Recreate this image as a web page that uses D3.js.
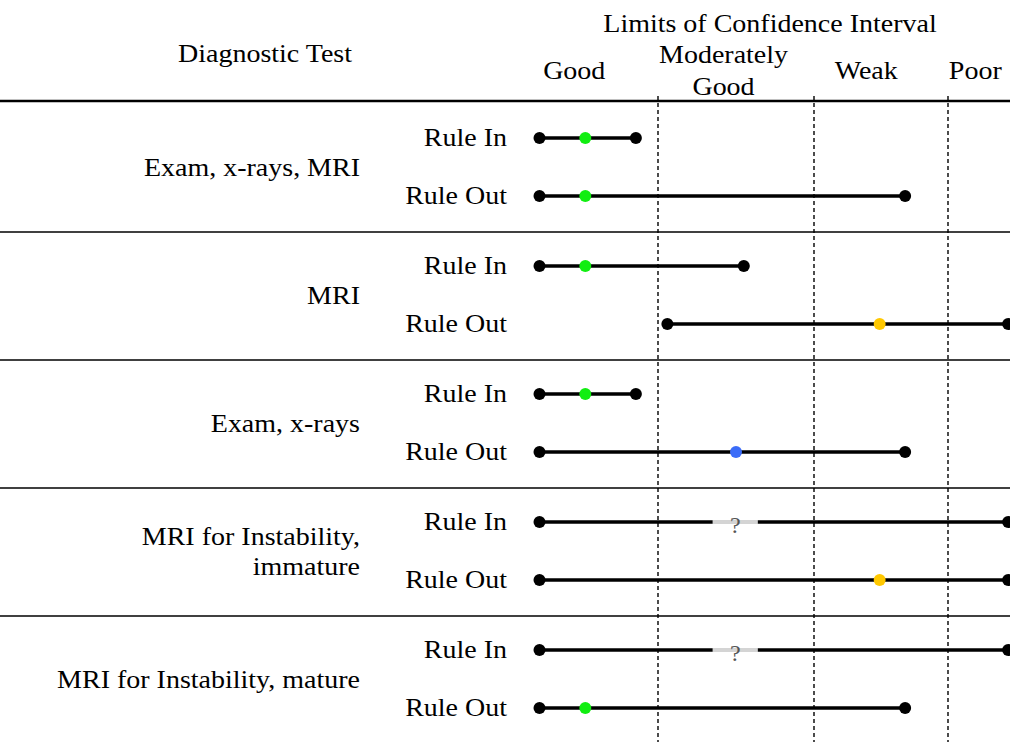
<!DOCTYPE html>
<html>
<head>
<meta charset="utf-8">
<script src="https://cdn.jsdelivr.net/npm/d3@7"></script>
<style>
  body { margin: 0; background: #fff; }
</style>
</head>
<body>
<div id="chart"></div>
<script>
var w = 1010;
var h = 742;
var font = "'Liberation Serif', 'Times New Roman', serif";
var stretch = 1.12; // the source text is a bit wider than Times

// diagnostic tests (groups), each split into label lines
var groups = ["Exam, x-rays, MRI", "MRI", "Exam, x-rays", "MRI for Instability, immature", "MRI for Instability, mature"];
var groupLines = [["Exam, x-rays, MRI"], ["MRI"], ["Exam, x-rays"], ["MRI for Instability,", "immature"], ["MRI for Instability, mature"]];
var tests = ["Rule In", "Rule Out"];

// zones of the confidence interval scale (0..4), boundaries between them
var zones = [["Good"], ["Moderately", "Good"], ["Weak"], ["Poor"]];
var zoneLabelPos = [0.47, 1.42, 2.39, 3.44];
var zoneBounds = [1, 2, 3];

// one entry per group x test, in order
var lower = [0.25, 0.25, 0.25, 1.06, 0.25, 0.25, 0.25, 0.25, 0.25, 0.25];
var upper = [0.86, 2.68, 1.55, 3.97, 0.86, 2.68, 3.97, 3.97, 3.97, 2.68];
var estimate = [0.54, 0.54, 0.54, 2.49, 0.54, 1.5, null, 2.49, null, 0.54];
var estColor = ["#11ee11", "#11ee11", "#11ee11", "#ffc800", "#11ee11", "#3b6cf8", null, "#ffc800", null, "#11ee11"];
// unknown stretch on rows with no estimate
var unknownLo = 1.35;
var unknownHi = 1.64;

var rows = [];
groups.forEach(function (g, gi) {
  tests.forEach(function (t, ti) {
    var i = gi * 2 + ti;
    rows.push({ group: g, test: t, lo: lower[i], hi: upper[i], est: estimate[i], color: estColor[i] });
  });
});

var x = d3.scaleLinear()
  .domain([0, 1, 2, 3, 4])
  .range([500, 658, 814, 948, 1010]);

var yg = d3.scaleBand()
  .domain(groups)
  .range([104, 744]);

var yt = d3.scalePoint()
  .domain(tests)
  .range([34, 92]);

function rowY(d) { return yg(d.group) + yt(d.test); }

var svg = d3.select("#chart").append("svg")
  .attr("width", w)
  .attr("height", h);

// text placed at (px, py) and widened a little
function label(sel, px, py, anchor) {
  sel.attr("transform", function (d, i) {
      var a = typeof px === "function" ? px(d, i) : px;
      var b = typeof py === "function" ? py(d, i) : py;
      return "translate(" + a + "," + b + ") scale(" + stretch + ",1)";
    })
    .attr("text-anchor", anchor)
    .style("font-family", font)
    .style("font-size", "25px")
    .style("fill", "#000");
}

// header
svg.append("text").call(label, 265, 62, "middle").text("Diagnostic Test");
svg.append("text").call(label, 770, 32, "middle").text("Limits of Confidence Interval");

svg.selectAll(".zone")
  .data(zones)
  .join("text")
  .attr("class", "zone")
  .call(label, function (d, i) { return x(zoneLabelPos[i]); }, function (d) { return d.length > 1 ? 63 : 79; }, "middle")
  .each(function (d) {
    d3.select(this).selectAll("tspan")
      .data(d)
      .join("tspan")
      .attr("x", 0)
      .attr("y", function (s, j) { return j * 32; })
      .text(function (s) { return s; });
  });

// rules
svg.append("line")
  .attr("x1", 0).attr("x2", w)
  .attr("y1", 101).attr("y2", 101)
  .attr("stroke", "#000").attr("stroke-width", 2.5);

svg.selectAll(".sep")
  .data(groups.slice(1))
  .join("line")
  .attr("class", "sep")
  .attr("x1", 0).attr("x2", w)
  .attr("y1", function (d) { return yg(d); })
  .attr("y2", function (d) { return yg(d); })
  .attr("stroke", "#000").attr("stroke-width", 1.5);

svg.selectAll(".bound")
  .data(zoneBounds)
  .join("line")
  .attr("class", "bound")
  .attr("x1", function (d) { return x(d); })
  .attr("x2", function (d) { return x(d); })
  .attr("y1", 96).attr("y2", h)
  .attr("stroke", "#000").attr("stroke-width", 1.4)
  .attr("stroke-dasharray", "4,3");

// group labels
svg.selectAll(".group")
  .data(groups)
  .join("text")
  .attr("class", "group")
  .call(label, 360, function (g, i) {
    return yg(g) + yg.bandwidth() / 2 + 8 - (groupLines[i].length - 1) * 15.5;
  }, "end")
  .each(function (g, i) {
    d3.select(this).selectAll("tspan")
      .data(groupLines[i])
      .join("tspan")
      .attr("x", 0)
      .attr("y", function (s, j) { return j * 31; })
      .text(function (s) { return s; });
  });

// test labels
svg.selectAll(".test")
  .data(rows)
  .join("text")
  .attr("class", "test")
  .call(label, 507, function (d) { return rowY(d) + 8; }, "end")
  .text(function (d) { return d.test; });

// intervals
svg.selectAll(".ci")
  .data(rows)
  .join("line")
  .attr("class", "ci")
  .attr("x1", function (d) { return x(d.lo); })
  .attr("x2", function (d) { return x(d.hi); })
  .attr("y1", rowY).attr("y2", rowY)
  .attr("stroke", "#000").attr("stroke-width", 3.4);

var unknown = rows.filter(function (d) { return d.est === null; });

svg.selectAll(".gap")
  .data(unknown)
  .join("line")
  .attr("class", "gap")
  .attr("x1", x(unknownLo)).attr("x2", x(unknownHi))
  .attr("y1", rowY).attr("y2", rowY)
  .attr("stroke", "#d4d4d4").attr("stroke-width", 3.8);

svg.selectAll(".qmark")
  .data(unknown)
  .join("text")
  .attr("class", "qmark")
  .attr("text-anchor", "middle")
  .attr("x", x((unknownLo + unknownHi) / 2))
  .attr("y", function (d) { return rowY(d) + 11; })
  .style("font-family", font)
  .style("font-size", "24px")
  .style("fill", "#555")
  .text("?");

// end points
var ends = [];
rows.forEach(function (d) {
  ends.push({ row: d, v: d.lo });
  ends.push({ row: d, v: d.hi });
});

svg.selectAll(".end")
  .data(ends)
  .join("circle")
  .attr("class", "end")
  .attr("cx", function (d) { return x(d.v); })
  .attr("cy", function (d) { return rowY(d.row); })
  .attr("r", 6)
  .style("fill", "#000");

svg.selectAll(".est")
  .data(rows.filter(function (d) { return d.est !== null; }))
  .join("circle")
  .attr("class", "est")
  .attr("cx", function (d) { return x(d.est); })
  .attr("cy", rowY)
  .attr("r", 6)
  .style("fill", function (d) { return d.color; });
</script>
</body>
</html>
